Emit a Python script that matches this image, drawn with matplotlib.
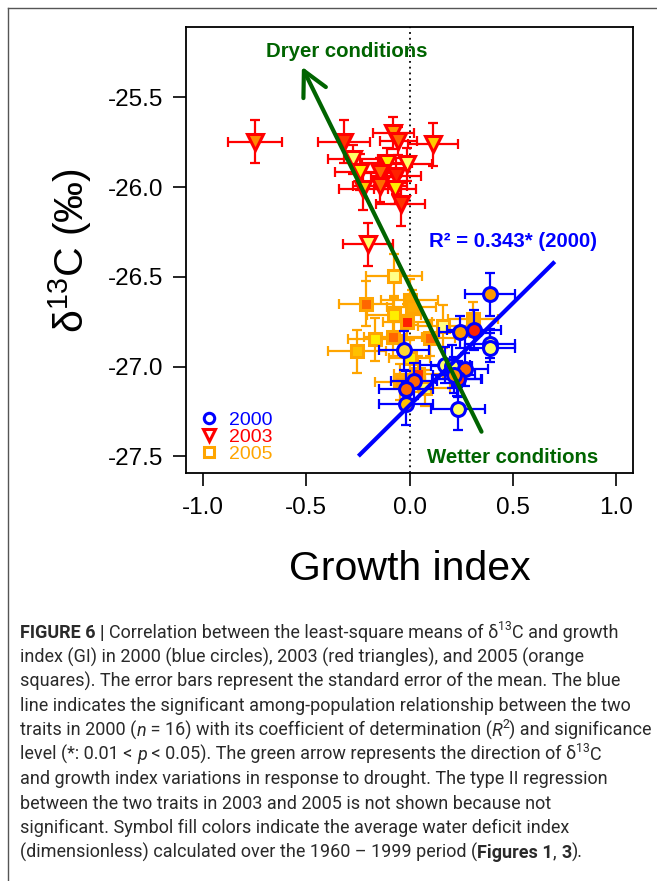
import matplotlib
matplotlib.use('Agg')
import matplotlib.pyplot as plt
from matplotlib.lines import Line2D
from matplotlib.font_manager import FontProperties

plt.rcParams['font.family'] = ['Liberation Sans', 'DejaVu Sans']
plt.rcParams['mathtext.fontset'] = 'custom'
plt.rcParams['mathtext.rm'] = 'Liberation Sans'
plt.rcParams['mathtext.it'] = 'Liberation Sans:italic'
plt.rcParams['mathtext.bf'] = 'Liberation Sans:bold'

# ---------------- data ----------------
# 2000 (blue circles)
gi_2000 = [0.389, 0.244, 0.311, 0.389, 0.389, -0.025, 0.171, 0.204, 0.268, 0.228, 0.236, 0.023, -0.017, -0.017, 0.236, 0.215]
d13c_2000 = [-26.597, -26.807, -26.796, -26.872, -26.894, -26.909, -26.991, -26.997, -27.015, -27.071, -27.068, -27.080, -27.123, -27.205, -27.233, -27.045]
gi_se_2000 = [0.12, 0.10, 0.13, 0.12, 0.12, 0.12, 0.12, 0.10, 0.11, 0.12, 0.11, 0.11, 0.13, 0.13, 0.13, 0.10]
d13c_se_2000 = [0.12, 0.09, 0.11, 0.08, 0.08, 0.11, 0.10, 0.12, 0.09, 0.09, 0.10, 0.10, 0.10, 0.12, 0.12, 0.10]
fill_2000 = ['#ff9900', '#ff9900', '#ff2200', '#ffff66', '#ffff66', '#ffd633', '#ffff66', '#ffff66',
             '#ff6600', '#ff2200', '#ff3300', '#ff6600', '#ff6600', '#ffc000', '#ffff66', '#ff9900']

# 2003 (red triangles)
gi_2003 = [-0.746, -0.316, -0.078, -0.054, 0.115, -0.274, -0.239, -0.110, -0.010, -0.142, -0.065, -0.142, -0.070, -0.223, -0.043, -0.199]
d13c_2003 = [-25.747, -25.747, -25.697, -25.743, -25.760, -25.845, -25.916, -25.864, -25.873, -25.920, -25.938, -25.994, -26.013, -26.010, -26.096, -26.319]
gi_se_2003 = [0.13, 0.125, 0.10, 0.09, 0.12, 0.12, 0.12, 0.12, 0.12, 0.10, 0.12, 0.13, 0.10, 0.12, 0.12, 0.12]
d13c_se_2003 = [0.12, 0.12, 0.09, 0.08, 0.12, 0.08, 0.10, 0.08, 0.09, 0.08, 0.10, 0.09, 0.08, 0.12, 0.12, 0.12]
fill_2003 = ['#ff8800', '#ff3300', '#ff9900', '#ff6600', '#ffcc00', '#ffff66', '#ffee00', '#ffee00',
             '#ffff66', '#ff6600', '#ff2200', '#ff6a00', '#ffee00', '#ffcc00', '#ff3300', '#ffff66']

# 2005 (orange squares)
gi_2005 = [-0.073, -0.210, 0.000, 0.010, -0.073, -0.010, -0.167, -0.078, 0.099, -0.255, 0.163, 0.308, 0.043, 0.075, -0.045, 0.000]
d13c_2005 = [-26.495, -26.648, -26.630, -26.670, -26.714, -26.752, -26.848, -26.833, -26.839, -26.913, -26.774, -26.737, -27.043, -27.117, -27.083, -26.950]
gi_se_2005 = [0.135, 0.13, 0.14, 0.12, 0.13, 0.12, 0.13, 0.14, 0.12, 0.14, 0.12, 0.12, 0.12, 0.12, 0.12, 0.10]
d13c_se_2005 = [0.12, 0.125, 0.12, 0.10, 0.11, 0.10, 0.12, 0.11, 0.10, 0.12, 0.12, 0.10, 0.10, 0.10, 0.10, 0.10]
fill_2005 = ['#ffff88', '#ff6600', '#ffaa00', '#ffaa00', '#ffee00', '#ff2200', '#ffee00', '#ff6600',
             '#ff6600', '#ffc000', '#ffff88', '#ffaa00', '#ff3300', '#ffff66', '#ff9900', '#ffee00']

# regression line (2000) end points and drought arrow
reg_x = [-0.247, 0.702]
reg_y = [-27.498, -26.415]
arrow_tail = (0.348, -27.362)
arrow_tip = (-0.520, -25.329)

x_ticks = [-1.0, -0.5, 0.0, 0.5, 1.0]
y_ticks = [-25.5, -26.0, -26.5, -27.0, -27.5]
legend_labels = ['2000', '2003', '2005']

# ---------------- figure ----------------
W, H = 657, 881
fig = plt.figure(figsize=(W / 100, H / 100), dpi=100)
fig.patch.set_facecolor('white')

# page frame lines (top and left)
fig.add_artist(Line2D([8 / W, 1.0], [1 - 8 / H, 1 - 8 / H], color='#555555', lw=1.0))
fig.add_artist(Line2D([8 / W, 8 / W], [1 - 8 / H, 0.0], color='#555555', lw=1.0))

ax = fig.add_axes([186 / W, 1 - 473 / H, 447 / W, 446 / H])
ax.set_xlim(-1.08, 1.08)
ax.set_ylim(-27.592, -25.108)

for s in ax.spines.values():
    s.set_linewidth(1.3)
ax.set_xticks(x_ticks)
ax.set_xticklabels([f'{v:.1f}' for v in x_ticks])
ax.set_yticks(y_ticks)
ax.set_yticklabels([f'{v:.1f}' for v in y_ticks])
ax.tick_params(axis='both', direction='out', length=9.5, width=1.2, labelsize=17.5)
ax.tick_params(axis='x', pad=8)
ax.tick_params(axis='y', pad=7)

ax.axvline(0, color='black', ls=(0, (1, 2.2)), lw=1.3, zorder=1)

ekw = dict(ls='none', elinewidth=1.6, capsize=3.8, capthick=1.6)

# 2005 squares
ax.errorbar(gi_2005, d13c_2005, xerr=gi_se_2005, yerr=d13c_se_2005, ecolor='#ffa500', zorder=2, **ekw)
for x, y, c in zip(gi_2005, d13c_2005, fill_2005):
    ax.plot(x, y, 's', ms=8.5, mfc=c, mec='#ffa500', mew=2.2, zorder=3)

# 2003 triangles
ax.errorbar(gi_2003, d13c_2003, xerr=gi_se_2003, yerr=d13c_se_2003, ecolor='#ff0000', zorder=4, **ekw)
for x, y, c in zip(gi_2003, d13c_2003, fill_2003):
    ax.plot(x, y, 'v', ms=12, mfc=c, mec='#ff0000', mew=2.2, zorder=5)

# 2000 circles
ax.errorbar(gi_2000, d13c_2000, xerr=gi_se_2000, yerr=d13c_se_2000, ecolor='#0000ff', zorder=6, **ekw)
for x, y, c in zip(gi_2000, d13c_2000, fill_2000):
    ax.plot(x, y, 'o', ms=10, mfc=c, mec='#0000ff', mew=2.2, zorder=7)

# regression line
ax.plot(reg_x, reg_y, color='#0000ff', lw=3, solid_capstyle='butt', zorder=8)

# drought arrow
green = '#006400'
ax.annotate('', xy=arrow_tip, xytext=arrow_tail,
            arrowprops=dict(arrowstyle='->,head_length=1.75,head_width=0.9', color=green, lw=3,
                            shrinkA=0, shrinkB=0), zorder=9)

ax.text(-0.303, -25.244, 'Dryer conditions', color=green, fontsize=14.7, fontweight='bold',
        ha='center', va='center', zorder=10)
ax.text(0.497, -27.507, 'Wetter conditions', color=green, fontsize=14.7, fontweight='bold',
        ha='center', va='center', zorder=10)
ax.text(0.50, -26.30, 'R² = 0.343* (2000)', color='#0000ff', fontsize=14.7, fontweight='bold',
        ha='center', va='center', zorder=10)

# legend (drawn in axes coordinates)
leg_markers = [('o', '#0000ff', 7.5), ('v', '#ff0000', 9), ('s', '#ffa500', 6.5)]
for i, (lab, (m, c, ms)) in enumerate(zip(legend_labels, leg_markers)):
    yy = 0.123 - i * 0.038
    ax.plot([0.052], [yy], m, ms=ms, mfc='none', mec=c, mew=2.2, transform=ax.transAxes,
            clip_on=False, zorder=10)
    ax.text(0.097, yy, lab, color=c, fontsize=14, ha='left', va='center_baseline',
            transform=ax.transAxes, zorder=10)

ax.set_xlabel('Growth index', fontsize=29.5, va='baseline')
ax.xaxis.set_label_coords(0.5, -0.24)
ax.set_ylabel('δ$^{13}$C (‰)', fontsize=29.5, va='baseline')
ax.yaxis.set_label_coords(-0.228, 0.5)

# ---------------- caption ----------------
cap_family = ['Roboto', 'Liberation Sans', 'DejaVu Sans']
cap_color = '#2a2a2a'
renderer = fig.canvas.get_renderer()

caption_lines = [
    [('FIGURE 6 | ', 'b'), ('Correlation between the least-square means of δ', ''), ('13', 's'), ('C and growth', '')],
    [('index (GI) in 2000 (blue circles), 2003 (red triangles), and 2005 (orange', '')],
    [('squares). The error bars represent the standard error of the mean. The blue', '')],
    [('line indicates the significant among-population relationship between the two', '')],
    [('traits in 2000 (', ''), ('n', 'i'), (' = 16) with its coefficient of determination (', ''), ('R', 'i'), ('2', 's'),
     (') and significance', '')],
    [('level (*: 0.01 < ', ''), ('p', 'i'), (' < 0.05). The green arrow represents the direction of δ', ''), ('13', 's'), ('C', '')],
    [('and growth index variations in response to drought. The type II regression', '')],
    [('between the two traits in 2003 and 2005 is not shown because not', '')],
    [('significant. Symbol fill colors indicate the average water deficit index', '')],
    [('(dimensionless) calculated over the 1960 – 1999 period (', ''), ('Figures 1', 'b'), (', ', ''), ('3', 'b'), (').', '')],
]


def seg_prop(style, size):
    return FontProperties(family=cap_family, size=size * (0.68 if 's' in style else 1.0),
                          weight='bold' if 'b' in style else 'normal',
                          style='italic' if 'i' in style else 'normal')


def seg_width(text, fp):
    w1 = renderer.get_text_width_height_descent('x' + text + 'x', fp, ismath=False)[0]
    w0 = renderer.get_text_width_height_descent('xx', fp, ismath=False)[0]
    return w1 - w0


def line_width(segs, size):
    return sum(seg_width(t, seg_prop(st, size)) for t, st in segs)


base = 12.0
target = 628.0
cap_size = base * target / line_width(caption_lines[4], base)

x0 = 20.0
y0 = 638.0
dy = 24.4
for k, segs in enumerate(caption_lines):
    xp = x0
    yb = y0 + k * dy
    for t, st in segs:
        fp = seg_prop(st, cap_size)
        raise_px = cap_size * 0.42 * 100 / 72 if 's' in st else 0.0
        fig.text(xp / W, 1 - (yb - raise_px) / H, t, fontproperties=fp, color=cap_color,
                 ha='left', va='baseline')
        xp += seg_width(t, fp)

fig.savefig('out.png', dpi=100, facecolor='white')
